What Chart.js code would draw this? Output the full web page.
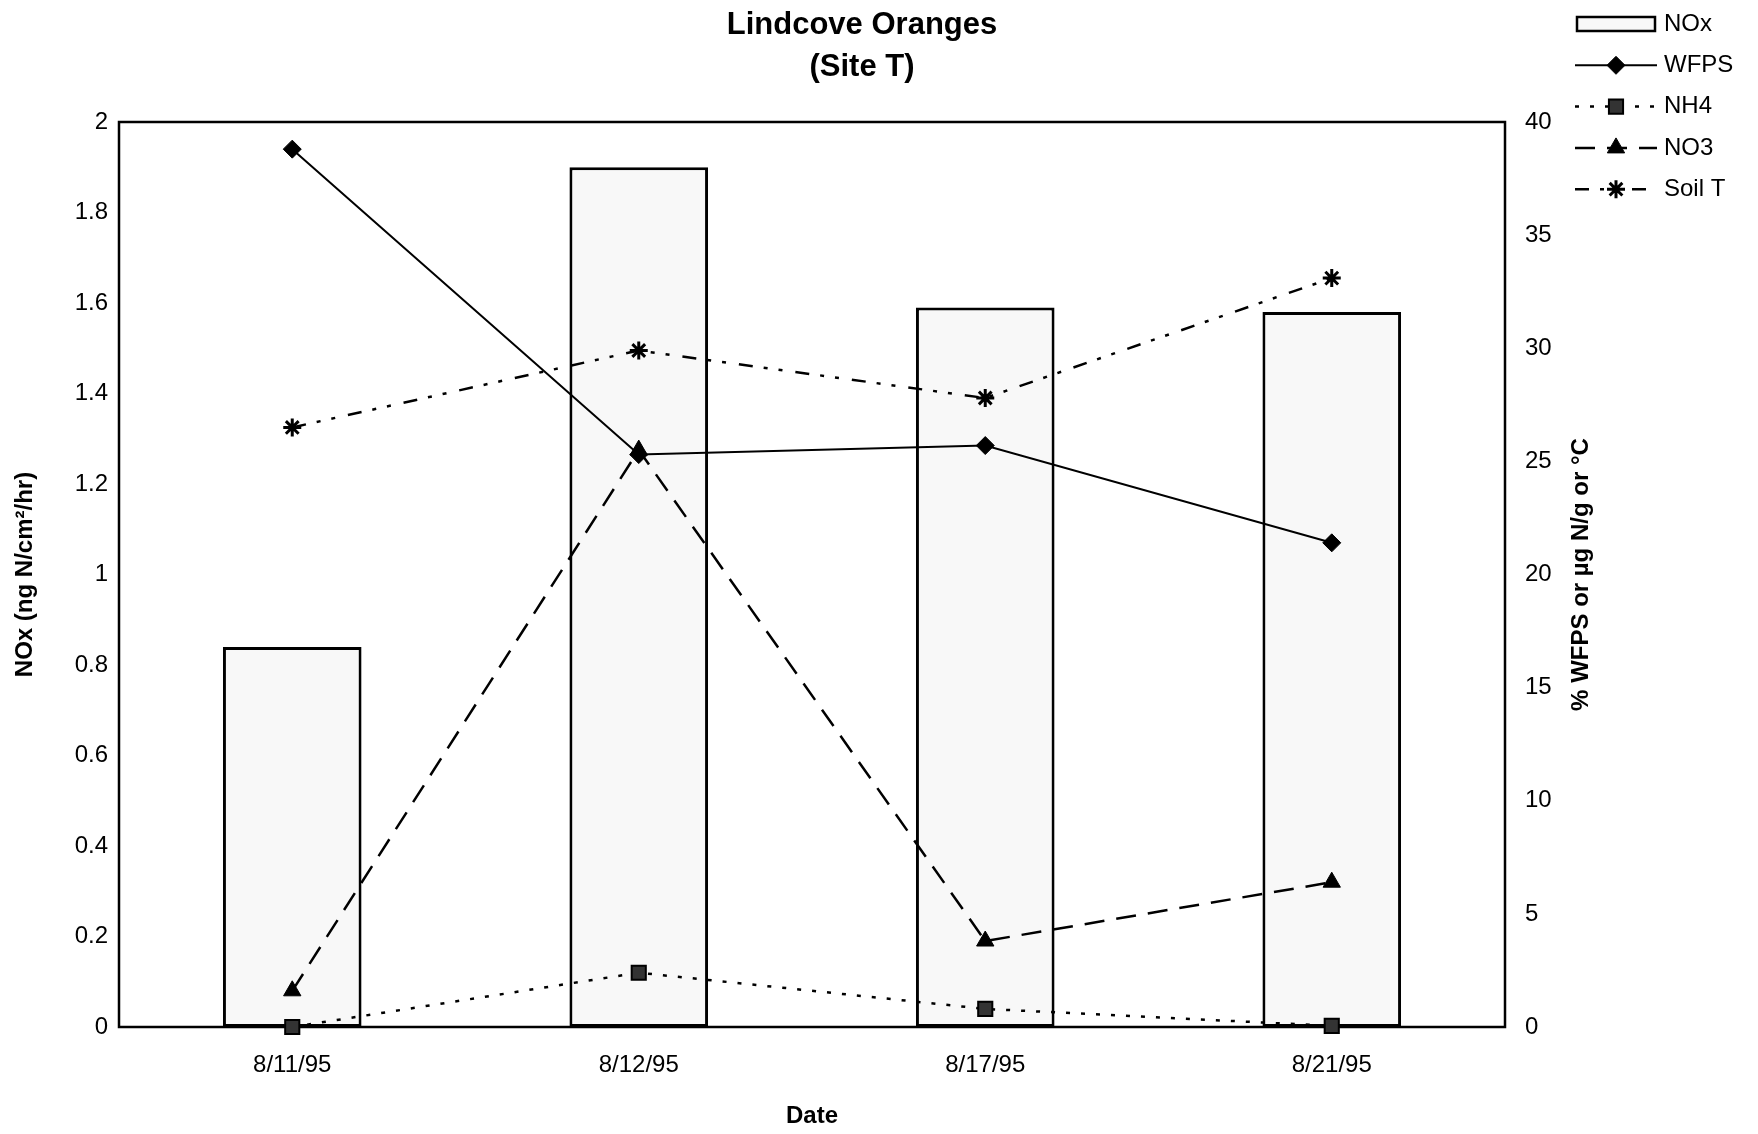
<!DOCTYPE html>
<html>
<head>
<meta charset="utf-8">
<title>Lindcove Oranges (Site T)</title>
<script src="https://cdn.jsdelivr.net/npm/chart.js@4.4.1/dist/chart.umd.min.js"></script>
<style>
  html, body { margin: 0; padding: 0; background: #fff; }
  canvas { display: block; }
</style>
</head>
<body>
<canvas id="myChart" width="1758" height="1134"></canvas>
<script>
// values
const dates = ['8/11/95', '8/12/95', '8/17/95', '8/21/95'];
const noxFlux = [0.84, 1.9, 1.59, 1.58];   // ng N/cm2/hr (left axis)
const wfps = [38.8, 25.3, 25.7, 21.4];     // right axis from here on
const nh4 = [0, 2.4, 0.8, 0.05];
const no3 = [1.6, 25.5, 3.8, 6.4];
const soilT = [26.5, 29.9, 27.8, 33.1];
const leftTicks = ['0', '0.2', '0.4', '0.6', '0.8', '1', '1.2', '1.4', '1.6', '1.8', '2'];
const rightTicks = ['0', '5', '10', '15', '20', '25', '30', '35', '40'];
const titleLines = ['Lindcove Oranges', '(Site T)'];

const FONT = "'Liberation Sans', Arial, sans-serif";

// black box round the plot area
const frame = {
    id: 'frame',
    beforeDatasetsDraw(chart) {
        const { ctx, chartArea: a } = chart;
        ctx.save();
        ctx.strokeStyle = '#000';
        ctx.lineWidth = 2.5;
        ctx.strokeRect(a.left, a.top, a.right - a.left, a.bottom - a.top);
        ctx.restore();
    }
};

// chart title sits a bit right of the plot centre in the original
const topTitle = {
    id: 'topTitle',
    afterDraw(chart) {
        const { ctx } = chart;
        ctx.save();
        ctx.font = 'bold 31px ' + FONT;
        ctx.textAlign = 'center';
        ctx.textBaseline = 'middle';
        ctx.fillStyle = '#000';
        titleLines.forEach((t, i) => ctx.fillText(t, 862, 25 + i * 42));
        ctx.restore();
    }
};

// right axis title reads bottom to top, like the left one
const rightTitle = {
    id: 'rightTitle',
    afterDraw(chart) {
        const { ctx, chartArea: a } = chart;
        const s = chart.scales.y1;
        ctx.save();
        ctx.translate(s.right - 19, (a.top + a.bottom) / 2);
        ctx.rotate(-Math.PI / 2);
        ctx.font = 'bold 24px ' + FONT;
        ctx.textAlign = 'center';
        ctx.textBaseline = 'middle';
        ctx.fillStyle = '#000';
        ctx.fillText('% WFPS or \u00b5g N/g or \u00b0C', 0, 0);
        ctx.restore();
    }
};

// legend in the top right corner, line sample with marker in the middle
const sideLegend = {
    id: 'sideLegend',
    afterDraw(chart) {
        const { ctx } = chart;
        const x0 = 1575, x1 = 1657, tx = 1664;
        ctx.save();
        ctx.font = '24px ' + FONT;
        ctx.textBaseline = 'middle';
        chart.data.datasets.forEach((ds, i) => {
            const y = 24 + i * 41.3;
            if (ds.type === 'bar') {
                ctx.fillStyle = ds.backgroundColor;
                ctx.strokeStyle = '#000';
                ctx.lineWidth = 2.5;
                ctx.fillRect(x0 + 2, y - 7, x1 - x0 - 4, 14);
                ctx.strokeRect(x0 + 2, y - 7, x1 - x0 - 4, 14);
            } else {
                ctx.strokeStyle = ds.borderColor;
                ctx.lineWidth = ds.borderWidth;
                ctx.setLineDash(ds.borderDash || []);
                ctx.beginPath();
                ctx.moveTo(x0, y);
                ctx.lineTo(x1, y);
                ctx.stroke();
                ctx.setLineDash([]);
                ctx.fillStyle = ds.pointBackgroundColor;
                ctx.strokeStyle = ds.pointBorderColor;
                ctx.lineWidth = ds.pointBorderWidth;
                Chart.helpers.drawPoint(ctx, {
                    pointStyle: ds.pointStyle,
                    radius: ds.pointRadius,
                    borderWidth: ds.pointBorderWidth,
                    rotation: 0
                }, (x0 + x1) / 2, y);
            }
            ctx.fillStyle = '#000';
            ctx.fillText(ds.label, tx, y);
        });
        ctx.restore();
    }
};

const tickFont = { family: FONT, size: 24 };
const titleFont = { family: FONT, size: 24, weight: 'bold' };

const lineBase = {
    type: 'line',
    yAxisID: 'y1',
    borderColor: '#000',
    borderWidth: 2.5,
    pointBackgroundColor: '#000',
    pointBorderColor: '#000',
    pointBorderWidth: 1,
    tension: 0,
    fill: false,
    clip: false
};

const ctx = document.getElementById('myChart').getContext('2d');
new Chart(ctx, {
    data: {
        labels: dates,
        datasets: [
            {
                type: 'bar',
                label: 'NOx',
                data: noxFlux,
                yAxisID: 'y',
                backgroundColor: '#f8f8f8',
                borderColor: '#000',
                borderWidth: 3,
                borderSkipped: false,
                barPercentage: 0.4,
                categoryPercentage: 1,
                order: 10
            },
            Object.assign({}, lineBase, {
                label: 'WFPS', data: wfps, borderWidth: 2,
                pointStyle: 'rectRot', pointRadius: 9, order: 1
            }),
            Object.assign({}, lineBase, {
                label: 'NH4', data: nh4, borderDash: [4, 11],
                pointStyle: 'rect', pointRadius: 10, pointBackgroundColor: '#333',
                pointBorderWidth: 2, order: 2
            }),
            Object.assign({}, lineBase, {
                label: 'NO3', data: no3, borderDash: [20, 12],
                pointStyle: 'triangle', pointRadius: 10, order: 3
            }),
            Object.assign({}, lineBase, {
                label: 'Soil T', data: soilT, borderDash: [14, 11, 4, 11, 4, 13],
                pointStyle: 'star', pointRadius: 9, pointBorderWidth: 3, order: 4
            })
        ]
    },
    options: {
        responsive: false,
        animation: false,
        devicePixelRatio: 1,
        layout: { padding: { left: 0, right: 158, top: 122, bottom: 0 } },
        plugins: {
            legend: { display: false },
            tooltip: { enabled: false },
            title: { display: false }
        },
        scales: {
            x: {
                offset: true,
                grid: { display: false, drawTicks: false },
                border: { display: false },
                ticks: { color: '#000', font: tickFont, padding: 24, maxRotation: 0 },
                title: { display: true, text: 'Date', color: '#000', font: titleFont, padding: { top: 0, bottom: 3 } },
                afterFit(s) { s.height = 107; }
            },
            y: {
                position: 'left',
                min: 0,
                max: 2,
                grid: { display: false, drawTicks: false },
                border: { display: false },
                ticks: {
                    stepSize: 0.2, color: '#000', font: tickFont, padding: 11,
                    callback: (v, i) => leftTicks[i]
                },
                title: {
                    display: true, text: 'NOx (ng N/cm\u00b2/hr)', color: '#000',
                    font: titleFont, padding: { top: 11, bottom: 0 }
                },
                afterFit(s) { s.width = 119; }
            },
            y1: {
                position: 'right',
                min: 0,
                max: 40,
                grid: { display: false, drawTicks: false },
                border: { display: false },
                ticks: {
                    stepSize: 5, color: '#000', font: tickFont, padding: 20,
                    callback: (v, i) => rightTicks[i]
                },
                afterFit(s) { s.width = 95; }
            }
        }
    },
    plugins: [frame, topTitle, rightTitle, sideLegend]
});
</script>
</body>
</html>
